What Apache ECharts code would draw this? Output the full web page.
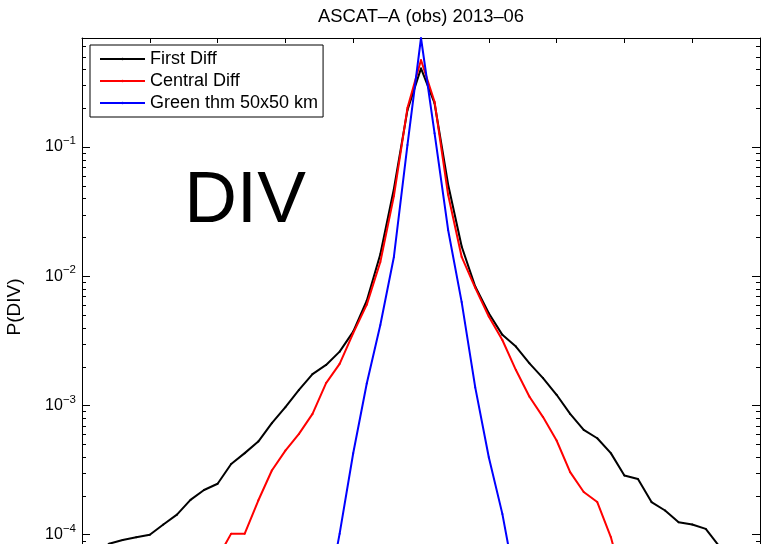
<!DOCTYPE html>
<html><head><meta charset="utf-8">
<script src="https://cdn.jsdelivr.net/npm/echarts@6/dist/echarts.min.js"></script>
<style>html,body{margin:0;padding:0;background:#fff}#c{width:762px;height:544px}</style>
</head><body><div id="c"></div>
<script>
// Bin centres (x axis, DIV value in tick units)
const xValues = [-5.0,-4.8,-4.6,-4.4,-4.2,-4.0,-3.8,-3.6,-3.4,-3.2,-3.0,-2.8,-2.6,-2.4,-2.2,-2.0,-1.8,-1.6,-1.4,-1.2,-1.0,-0.8,-0.6,-0.4,-0.2,0.0,0.2,0.4,0.6,0.8,1.0,1.2,1.4,1.6,1.8,2.0,2.2,2.4,2.6,2.8,3.0,3.2,3.4,3.6,3.8,4.0,4.2,4.4,4.6,4.8,5.0];

const firstDiff = [5.25e-5,7.08e-5,8.51e-5,9.12e-5,9.55e-5,1.00e-4,1.20e-4,1.43e-4,1.86e-4,2.22e-4,2.48e-4,3.53e-4,4.28e-4,5.26e-4,7.30e-4,9.70e-4,1.32e-3,1.75e-3,2.06e-3,2.61e-3,3.73e-3,6.46e-3,1.48e-2,4.73e-2,0.193,0.406,0.218,0.0513,0.0170,8.32e-3,5.18e-3,3.52e-3,2.86e-3,2.12e-3,1.63e-3,1.21e-3,8.61e-4,6.47e-4,5.58e-4,4.28e-4,2.87e-4,2.70e-4,1.79e-4,1.54e-4,1.25e-4,1.20e-4,1.11e-4,8.13e-5,6.31e-5,5.01e-5,3.55e-5];

const centralDiff = [null,null,null,null,null,null,null,null,2.0e-5,3.55e-5,6.61e-5,1.02e-4,1.02e-4,1.84e-4,3.14e-4,4.48e-4,6.03e-4,8.61e-4,1.49e-3,2.10e-3,3.63e-3,6.03e-3,1.29e-2,4.17e-2,0.200,0.471,0.224,0.0427,0.0141,8.13e-3,4.88e-3,3.21e-3,1.88e-3,1.17e-3,8.13e-4,5.36e-4,3.05e-4,2.14e-4,1.79e-4,9.59e-5,3.98e-5,2.51e-5,null,null,null,null,null,null,null,null,null];

const greenThm = [null,null,null,null,null,null,null,null,null,null,null,null,null,null,null,null,null,6.3e-6,2.82e-5,1.02e-4,4.27e-4,1.48e-3,4.20e-3,1.41e-2,0.1035,0.697,0.128,0.0228,6.31e-3,1.38e-3,3.98e-4,1.45e-4,3.98e-5,1.0e-5,null,null,null,null,null,null,null,null,null,null,null,null,null,null,null,null,null];

const seriesNames = ['First Diff','Central Diff','Green thm 50x50 km'];
const seriesColors = ['#000000','#ff0000','#0000ff'];
const seriesData = [firstDiff, centralDiff, greenThm];

const xMin = -5, xMax = 5, yMin = 1e-5, yMax = 0.697;

function pairs(arr){
  const out = [];
  arr.forEach((v,i)=>{ if (v !== null) out.push([xValues[i], v]); });
  return out;
}

// minor log ticks (2..9 per decade)
const minorTicks = [];
for (let d = -5; d <= -1; d++) {
  for (let m = 2; m <= 9; m++) {
    const v = m * Math.pow(10, d);
    if (v < yMax) minorTicks.push([xMin, v]);
  }
}

const FONT = "'Liberation Sans', Arial, Helvetica, sans-serif";

const chart = echarts.init(document.getElementById('c'), null, {renderer:'canvas'});

function yLabel(v){
  const e = Math.log10(v);
  if (Math.abs(e - Math.round(e)) > 1e-6) return '';
  const r = Math.round(e);
  return '{b|10}{s|' + (r < 0 ? '\u2212' + (-r) : r) + '}';
}

const series = seriesData.map((arr, i) => ({
  name: seriesNames[i],
  type: 'line',
  data: pairs(arr),
  xAxisIndex: 0, yAxisIndex: 0,
  symbol: 'circle', symbolSize: 2, showSymbol: true,
  itemStyle: {color: seriesColors[i]},
  lineStyle: {color: seriesColors[i], width: 2},
  z: 3 + i,
  animation: false
}));

series.push({
  type: 'custom',
  name: 'minor',
  xAxisIndex: 0, yAxisIndex: 0,
  silent: true,
  data: minorTicks,
  renderItem: function(params, api){
    const v = api.value(1);
    const pL = api.coord([xMin, v]);
    const pR = api.coord([xMax, v]);
    const y = Math.round(pL[1]) + 0.5;
    return {type:'group', children:[
      {type:'line', shape:{x1:pL[0], y1:y, x2:pL[0]+4, y2:y}, style:{stroke:'#000', lineWidth:1}},
      {type:'line', shape:{x1:pR[0]-4, y1:y, x2:pR[0], y2:y}, style:{stroke:'#000', lineWidth:1}}
    ]};
  },
  z: 10
});

const axisLineStyle = {show:true, onZero:false, lineStyle:{color:'#000', width:1}};

chart.setOption({
  animation: false,
  backgroundColor: '#fff',
  grid: {left: 82, top: 38, right: 2, bottom: -120, containLabel: false, outerBoundsMode: 'none'},
  xAxis: [
    {type:'value', position:'bottom', min:xMin, max:xMax, interval:1,
     axisLine: axisLineStyle, axisTick:{show:true, inside:true, length:5, lineStyle:{color:'#000'}},
     axisLabel:{show:true, color:'#000', fontFamily:FONT, fontSize:16}, splitLine:{show:false}},
    {type:'value', position:'top', min:xMin, max:xMax, interval:1,
     axisLine: axisLineStyle, axisTick:{show:true, inside:true, length:5, lineStyle:{color:'#000'}},
     axisLabel:{show:false}, splitLine:{show:false}}
  ],
  yAxis: [
    {type:'log', position:'left', min:yMin, max:yMax, logBase:10,
     axisLine: axisLineStyle, axisTick:{show:true, inside:true, length:8, lineStyle:{color:'#000'}},
     axisLabel:{show:true, margin:6, formatter:yLabel, showMaxLabel:false,
       rich:{ b:{fontSize:16, fontFamily:FONT, color:'#000', lineHeight:24},
              s:{fontSize:11.5, fontFamily:FONT, color:'#000', verticalAlign:'top', lineHeight:11} }},
     splitLine:{show:false}},
    {type:'log', position:'right', min:yMin, max:yMax, logBase:10,
     axisLine: axisLineStyle, axisTick:{show:true, inside:true, length:8, lineStyle:{color:'#000'}},
     axisLabel:{show:false}, splitLine:{show:false}}
  ],
  legend: {
    data: seriesNames,
    orient: 'vertical',
    left: 90, top: 45,
    backgroundColor: '#fff',
    borderColor: '#000', borderWidth: 1,
    padding: [5, 5, 5, 9],
    itemWidth: 45, itemHeight: 3, itemGap: 4,
    textStyle: {fontSize: 18, fontFamily: FONT, color: '#000', lineHeight: 18},
    selectedMode: false
  },
  graphic: [
    {type:'text', x:421, y:17, z:100, style:{text:'ASCAT\u2013A (obs) 2013\u201306', fontSize:18.4, fontFamily:FONT, fill:'#000', align:'center', verticalAlign:'middle'}},
    {type:'text', x:245, y:202, z:100, style:{text:'DIV', fontSize:73, fontFamily:FONT, fill:'#000', align:'center', verticalAlign:'middle'}},
    {type:'text', x:15, y:307, rotation: Math.PI/2, z:100, style:{text:'P(DIV)', fontSize:19, fontFamily:FONT, fill:'#000', align:'center', verticalAlign:'middle'}}
  ],
  series: series
});
</script>
</body></html>
